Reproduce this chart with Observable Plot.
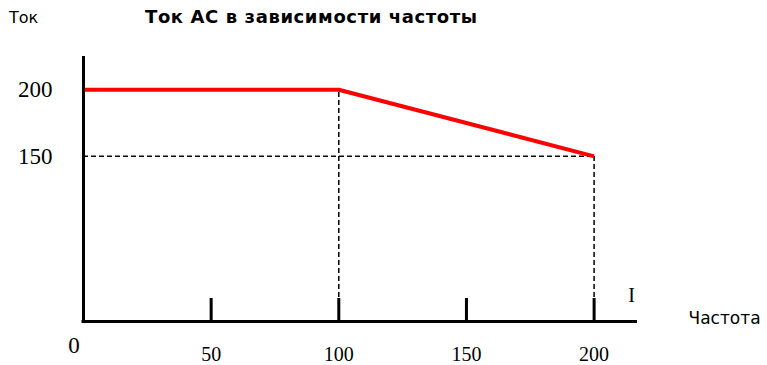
<!DOCTYPE html>
<html><head><meta charset="utf-8">
<script src="https://cdn.jsdelivr.net/npm/d3@7"></script>
<script src="https://cdn.jsdelivr.net/npm/@observablehq/plot@0.6"></script>
<style>
body{margin:0;background:#fff;width:767px;height:365px;overflow:hidden}
#hdr{position:relative;height:36px;font-family:"DejaVu Sans",sans-serif;color:#000}
#hdr span{position:absolute;top:9.5px;line-height:16px;white-space:nowrap;font-size:16px}
#yl{left:9px}
#tt{left:145px;top:8.5px!important;font-weight:bold;font-size:18px!important;letter-spacing:0.6px}
</style></head><body>
<div id="hdr"><span id="yl"></span><span id="tt"></span></div>
<div id="chart"></div>
<script>
const freq = [0, 100, 200];
const current = [200, 200, 150];
const xTicks = [50, 100, 150, 200];
const yTicks = [150, 200];
const originLabel = ["0"];
const xLabel = ["Частота"];
const yLabel = "Ток";
const title = "Ток АС в зависимости частоты";
const cornerMark = ["I"];

document.getElementById("yl").textContent = yLabel;
document.getElementById("tt").textContent = title;

const xDomain = [0, 217];
const yDomain = [26, 225];
const pts = freq.map((f, i) => ({f, c: current[i]}));
const serif = "'Liberation Serif','Times New Roman',serif";
const dash = {stroke: "#000", strokeWidth: 1.5, strokeDasharray: "5,3"};

const chart = Plot.plot({
  width: 767,
  height: 329,
  marginLeft: 83,
  marginRight: 130,
  marginTop: 20,
  marginBottom: 44,
  style: {fontFamily: "'DejaVu Sans',sans-serif", overflow: "visible", background: "#fff", color: "#000"},
  x: {domain: xDomain, label: null},
  y: {domain: yDomain, label: null},
  marks: [
    Plot.ruleY(pts.slice(-1), {y: "c", x1: xDomain[0], x2: "f", ...dash}),
    Plot.ruleX(pts.slice(1), {x: "f", y1: yDomain[0], y2: "c", ...dash}),
    Plot.line(pts, {x: "f", y: "c", stroke: "#ff0000", strokeWidth: 4, strokeLinecap: "butt", strokeLinejoin: "miter"}),
    Plot.ruleX([xDomain[0]], {stroke: "#000", strokeWidth: 3, insetBottom: -1.5}),
    Plot.ruleY([yDomain[0]], {stroke: "#000", strokeWidth: 3, insetLeft: -1.5}),
    Plot.axisX({ticks: xTicks, tickSize: -23, strokeWidth: 3, stroke: "#000", tickFormat: () => "", label: null}),
    Plot.axisX({ticks: xTicks, tickSize: 0, tickPadding: 25, fontSize: 20, fontFamily: serif, fill: "#000", label: null}),
    Plot.axisY({ticks: yTicks, tickSize: 0, tickPadding: 31, fontSize: 23, fontFamily: serif, fill: "#000", label: null}),
    Plot.text(originLabel, {x: xDomain[0], text: d => d, frameAnchor: "bottom", lineAnchor: "middle", dx: -9.5, dy: 24, fontSize: 23, fontFamily: serif, fill: "#000"}),
    Plot.text(xLabel, {text: d => d, frameAnchor: "bottom-right", textAnchor: "start", lineAnchor: "middle", dx: 51, dy: -3, fontSize: 17, fill: "#000"}),
    Plot.text(cornerMark, {text: d => d, frameAnchor: "bottom-right", lineAnchor: "middle", dx: -2.5, dy: -26, fontSize: 20, fontFamily: serif, fill: "#000"})
  ]
});
document.getElementById("chart").append(chart);
</script>
</body></html>
